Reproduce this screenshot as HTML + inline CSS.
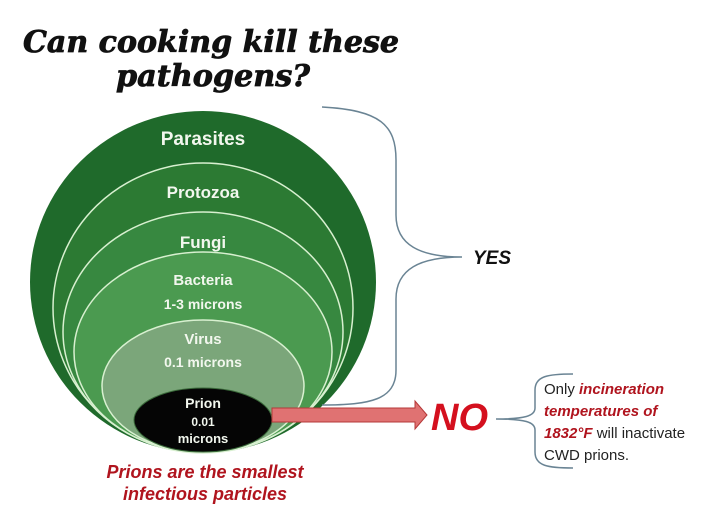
<!DOCTYPE html>
<html><head><meta charset="utf-8"><style>
html,body{margin:0;padding:0;background:#fff;width:720px;height:518px;overflow:hidden}
svg{display:block}
</style></head><body>
<svg width="720" height="518" viewBox="0 0 720 518" xmlns="http://www.w3.org/2000/svg">
<rect width="720" height="518" fill="#fff"/>
<g font-family="DejaVu Serif, Liberation Serif, serif" font-weight="bold" font-style="italic" fill="#111" stroke="#111" stroke-width="0.8" font-size="30">
<text x="23" y="52" textLength="376" lengthAdjust="spacingAndGlyphs">Can cooking kill these</text>
<text x="116" y="86" textLength="194" lengthAdjust="spacingAndGlyphs">pathogens?</text>
</g>
<ellipse cx="203" cy="282" rx="173" ry="171" fill="#1f6a2b"/>
<ellipse cx="203" cy="308" rx="150" ry="145" fill="#2c7a33" stroke="#d8f0d0" stroke-width="1.5"/>
<ellipse cx="203" cy="332" rx="140" ry="120" fill="#378840" stroke="#d8f0d0" stroke-width="1.5"/>
<ellipse cx="203" cy="352" rx="129" ry="100" fill="#4b9a50" stroke="#d8f0d0" stroke-width="1.5"/>
<ellipse cx="203" cy="386" rx="101" ry="66" fill="#7ba67a" stroke="#d8f0d0" stroke-width="1.5"/>
<ellipse cx="203" cy="420" rx="69" ry="32" fill="#050505" stroke="#3a6a3a" stroke-width="1"/>
<g font-family="Liberation Sans, sans-serif" font-weight="bold" fill="#f2f7ee" text-anchor="middle">
<text x="203" y="145" font-size="19">Parasites</text>
<text x="203" y="198" font-size="17">Protozoa</text>
<text x="203" y="248" font-size="17">Fungi</text>
<text x="203" y="285" font-size="15">Bacteria</text>
<text x="203" y="309" font-size="14">1-3 microns</text>
<text x="203" y="344" font-size="15">Virus</text>
<text x="203" y="367" font-size="14">0.1 microns</text>
<text x="203" y="408" font-size="14">Prion</text>
<text x="203" y="426" font-size="12">0.01</text>
<text x="203" y="443" font-size="13">microns</text>
</g>
<g font-family="Liberation Sans, sans-serif" font-weight="bold" font-style="italic" fill="#b0141e" text-anchor="middle" font-size="18">
<text x="205" y="478">Prions are the smallest</text>
<text x="205" y="500">infectious particles</text>
</g>
<path d="M322,107 C380,110 396,125 396,160 L396,215 C396,245 420,257 462,257 C420,257 396,269 396,299 L396,370 C396,400 370,405 322,405" fill="none" stroke="#6a8494" stroke-width="1.5"/>
<text x="473" y="264" font-family="Liberation Sans, sans-serif" font-weight="bold" font-style="italic" font-size="19" fill="#111">YES</text>
<path d="M272,408 L415,408 L415,401 L427,415 L415,429 L415,422 L272,422 Z" fill="#e07272" stroke="#b53838" stroke-width="1"/>
<text x="431" y="430" font-family="Liberation Sans, sans-serif" font-weight="bold" font-style="italic" font-size="38" fill="#d4101e">NO</text>
<path d="M573,374 C548,374 535,376 535,390 L535,408 C535,416 525,419 496,419 C525,419 535,422 535,430 L535,452 C535,466 548,468 573,468" fill="none" stroke="#6a8494" stroke-width="1.5"/>
<g font-family="Liberation Sans, sans-serif" font-size="15" fill="#222">
<text x="544" y="394">Only <tspan font-weight="bold" font-style="italic" fill="#b0141e">incineration</tspan></text>
<text x="544" y="416" font-weight="bold" font-style="italic" fill="#b0141e">temperatures of</text>
<text x="544" y="438"><tspan font-weight="bold" font-style="italic" fill="#b0141e">1832°F</tspan> will inactivate</text>
<text x="544" y="460">CWD prions.</text>
</g>
</svg>
</body></html>
